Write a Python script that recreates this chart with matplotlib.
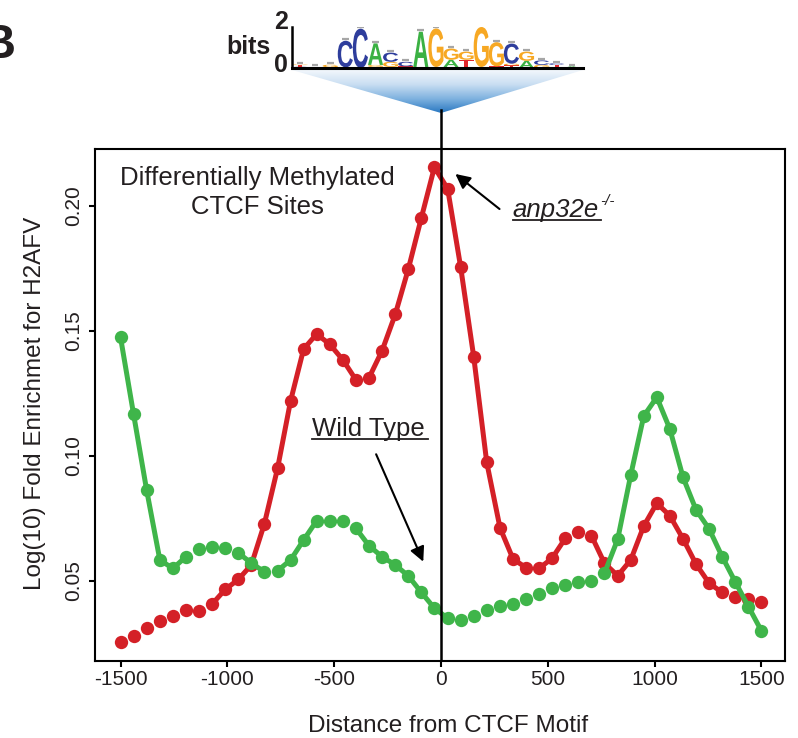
import matplotlib
matplotlib.use("Agg")
import matplotlib.pyplot as plt
import numpy as np
from matplotlib.collections import LineCollection
from matplotlib.textpath import TextPath
from matplotlib.font_manager import FontProperties
from matplotlib.patches import PathPatch, Polygon
from matplotlib.transforms import Affine2D

plt.rcParams['font.family'] = ['Liberation Sans', 'DejaVu Sans']

# distance from CTCF motif (bp), 50 bins
distance = [-1500, -1439, -1378, -1316, -1255, -1194, -1133, -1071, -1010, -949,
            -888, -827, -765, -704, -643, -582, -520, -459, -398, -337,
            -276, -214, -153, -92, -31, 31, 92, 153, 214, 276,
            337, 398, 459, 520, 582, 643, 704, 765, 827, 888,
            949, 1010, 1071, 1133, 1194, 1255, 1316, 1378, 1439, 1500]

anp32e_ko = [0.0256, 0.0280, 0.0310, 0.0339, 0.0359, 0.0383, 0.0380, 0.0407, 0.0465, 0.0505,
             0.0563, 0.0727, 0.0950, 0.1220, 0.1427, 0.1487, 0.1445, 0.1383, 0.1303, 0.1312,
             0.1420, 0.1566, 0.1747, 0.1952, 0.2154, 0.2068, 0.1754, 0.1396, 0.0973, 0.0712,
             0.0587, 0.0552, 0.0549, 0.0590, 0.0670, 0.0696, 0.0680, 0.0570, 0.0520, 0.0583,
             0.0719, 0.0810, 0.0760, 0.0667, 0.0566, 0.0490, 0.0453, 0.0436, 0.0426, 0.0416]

wild_type = [0.1473, 0.1166, 0.0863, 0.0583, 0.0549, 0.0596, 0.0626, 0.0636, 0.0629, 0.0612,
             0.0570, 0.0536, 0.0540, 0.0583, 0.0663, 0.0740, 0.0740, 0.0740, 0.0709, 0.0640,
             0.0596, 0.0563, 0.0519, 0.0453, 0.0390, 0.0350, 0.0343, 0.0360, 0.0383, 0.0400,
             0.0407, 0.0426, 0.0446, 0.0470, 0.0483, 0.0496, 0.0500, 0.0530, 0.0666, 0.0923,
             0.1159, 0.1234, 0.1107, 0.0913, 0.0783, 0.0707, 0.0596, 0.0494, 0.0396, 0.0299]

xticks = [-1500, -1000, -500, 0, 500, 1000, 1500]
yticks = [0.05, 0.10, 0.15, 0.20]
ytick_labels = ["0.05", "0.10", "0.15", "0.20"]

# CTCF motif logo: letters bottom->top and their heights (bits)
logo_letters = ["CTG", "AC", "AG", "GC", "C", "TGA", "AGC", "TC", "GA", "AG",
                "CAG", "TG", "AG", "TG", "ATGC", "AG", "GC", "ATC", "A"]
logo_bits = [[0.06, 0.08, 0.03], [0.03, 0.02], [0.04, 0.12], [0.03, 1.3], [1.92],
             [0.05, 0.1, 1.05], [0.05, 0.25, 0.45], [0.08, 0.22], [0.05, 1.72], [0.05, 1.88],
             [0.05, 0.35, 0.55], [0.4, 0.4], [0.05, 1.95], [0.08, 1.18], [0.05, 0.08, 0.08, 0.98],
             [0.35, 0.45], [0.15, 0.22], [0.05, 0.1, 0.08], [0.08]]
base_colors = {'A': '#3bb143', 'C': '#2e3d9c', 'G': '#f7a823', 'T': '#e0262b'}

RED = '#d42027'
GREEN = '#3fb54a'
TXT = '#231f20'

W, H = 798, 738
fig = plt.figure(figsize=(W / 100, H / 100), dpi=100)


def fx(px):
    return px / W


def fy(py):
    return 1 - py / H


# overlay in pixel coordinates for the gradient wedge and the motif line
ov = fig.add_axes([0, 0, 1, 1])
ov.set_xlim(0, W)
ov.set_ylim(H, 0)
ov.axis('off')
grad = np.linspace(0, 1, 200).reshape(-1, 1)
cmap = matplotlib.colors.LinearSegmentedColormap.from_list(
    'wedge', ['#f2f7fc', '#c9def2', '#7fb2df', '#2a78c2'])
im = ov.imshow(grad, extent=(292, 583, 113, 70), cmap=cmap, aspect='auto')
wedge = Polygon([[292, 70], [583, 70], [441, 113]], closed=True, transform=ov.transData)
im.set_clip_path(wedge)
ov.plot([441, 441], [110, 150], color='black', lw=1.8)

# main axes
ax = fig.add_axes([fx(94.7), fy(660.7), (785 - 94.7) / W, (660.7 - 149) / H])
ax.set_xlim(-1621, 1610)
ax.set_ylim(0.018, 0.2227)


def draw_series(x, y, color):
    xy = np.column_stack([x, y])
    pts = ax.transData.transform(xy)
    seglen = np.hypot(*np.diff(pts, axis=0).T)
    segs = [[xy[i], xy[i + 1]] for i in range(len(xy) - 1) if seglen[i] > 15.2]
    ax.add_collection(LineCollection(segs, colors=color, linewidths=3.6, capstyle='round'))
    ax.plot(x, y, 'o', ms=9.6, color=color, mew=0)


draw_series(distance, anp32e_ko, RED)
draw_series(distance, wild_type, GREEN)
ax.axvline(0, color='black', lw=1.8, zorder=5)

for s in ax.spines.values():
    s.set_linewidth(1.5)
ax.set_xticks(xticks)
ax.set_xticklabels([str(t) for t in xticks])
ax.set_yticks(yticks)
ax.set_yticklabels(ytick_labels, rotation=90, va='center')
ax.tick_params(direction='out', length=4.5, width=1.5, labelsize=15,
               labelcolor=TXT, pad=2.5)
ax.tick_params(axis='y', pad=4)

fig.text(fx(448.5), fy(726), 'Distance from CTCF Motif', ha='center', va='center',
         fontsize=17.5, color=TXT)
fig.text(fx(35), fy(403), 'Log(10) Fold Enrichmet for H2AFV', ha='center', va='center',
         rotation=90, fontsize=17.5, color=TXT)

ax.text(-861, 0.2053, 'Differentially Methylated\nCTCF Sites', ha='center', va='center',
        fontsize=18.5, color=TXT, linespacing=1.22)

# Wild Type label + arrow
ax.text(-605, 0.1079, 'Wild Type', ha='left', va='baseline', fontsize=18.5, color=TXT)
ax.plot([-605, -59], [0.1066, 0.1066], color=TXT, lw=1.3)
ax.annotate('', xy=(-78, 0.0566), xytext=(-309, 0.1016),
            arrowprops=dict(arrowstyle='-|>', mutation_scale=22, lw=1.5, color='black'))

# anp32e label + arrow
ax.text(335.6, 0.1956, 'anp32e', ha='left', va='baseline', fontsize=18.5,
        style='italic', color=TXT)
ax.text(747, 0.2003, '-/-', ha='left', va='baseline', fontsize=11,
        style='italic', color=TXT)
ax.plot([335.6, 747], [0.1943, 0.1943], color=TXT, lw=1.3)
ax.annotate('', xy=(57, 0.2134), xytext=(284, 0.198),
            arrowprops=dict(arrowstyle='-|>', mutation_scale=22, lw=1.5, color='black'))

# motif logo
lg = fig.add_axes([fx(292), fy(68), (583 - 292) / W, (68 - 27) / H])
lg.set_xlim(0.47, 19.74)
lg.set_ylim(0, 2)
lg.set_xticks([])
lg.set_yticks([])
for side in ['top', 'right']:
    lg.spines[side].set_visible(False)
lg.spines['left'].set_linewidth(1.8)
lg.spines['bottom'].set_linewidth(2.2)
lg.patch.set_alpha(0)

fp = FontProperties(family='Liberation Sans', weight='bold')


def draw_letter(ch, x0, y0, w, h):
    tp = TextPath((0, 0), ch, size=1, prop=fp)
    bb = tp.get_extents()
    tr = Affine2D().translate(-bb.x0, -bb.y0).scale(w / bb.width, h / bb.height).translate(x0, y0)
    lg.add_patch(PathPatch(tr.transform_path(tp), facecolor=base_colors[ch], lw=0))


for i, (letters, bits) in enumerate(zip(logo_letters, logo_bits)):
    xc = i + 1
    y0 = 0.0
    for ch, h in zip(letters, bits):
        draw_letter(ch, xc - 0.5, y0, 1.0, h)
        y0 += h
    lg.plot([xc - 0.22, xc + 0.22], [y0 + 0.08, y0 + 0.08], color='#a6a6a6', lw=1.6,
            solid_capstyle='butt')

fig.text(fx(248), fy(47), 'bits', ha='center', va='center', fontsize=18,
         fontweight='bold', color=TXT)
fig.text(fx(288), fy(22), '2', ha='right', va='center', fontsize=18,
         fontweight='bold', color=TXT)
fig.text(fx(288), fy(65), '0', ha='right', va='center', fontsize=18,
         fontweight='bold', color=TXT)
fig.text(fx(16), fy(58), 'B', ha='right', va='baseline', fontsize=35,
         fontweight='bold', color=TXT)

fig.savefig('out.png', dpi=100)
